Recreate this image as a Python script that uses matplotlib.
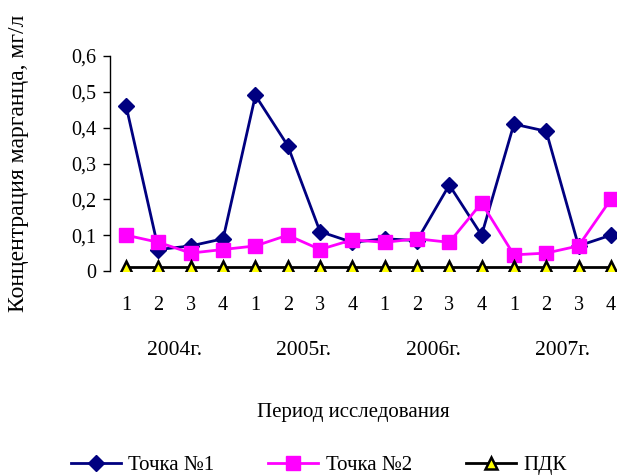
import matplotlib
matplotlib.use("Agg")
import matplotlib.pyplot as plt
import numpy as np

plt.rcParams['font.family'] = ['Liberation Serif', 'DejaVu Serif']

quarters = ['1', '2', '3', '4'] * 4
years = ['2004г.', '2005г.', '2006г.', '2007г.']
point1 = [0.46, 0.06, 0.07, 0.09, 0.49, 0.35, 0.11, 0.08, 0.09, 0.085, 0.24, 0.10, 0.41, 0.39, 0.07, 0.10]
point2 = [0.10, 0.08, 0.05, 0.06, 0.07, 0.10, 0.06, 0.087, 0.08, 0.09, 0.08, 0.19, 0.045, 0.05, 0.07, 0.20]
pdk = [0.01] * 16
yticks = [0, 0.1, 0.2, 0.3, 0.4, 0.5, 0.6]
ytick_labels = ['0', '0,1', '0,2', '0,3', '0,4', '0,5', '0,6']

W, H = 617, 475
fig = plt.figure(figsize=(W / 100, H / 100), dpi=100)
ax_left, ax_right = 110, 627
ax_top, ax_bottom = 56, 271
ax = fig.add_axes([ax_left / W, 1 - ax_bottom / H, (ax_right - ax_left) / W, (ax_bottom - ax_top) / H])

x = np.arange(len(quarters))
ax.plot(x, point1, color='#000080', lw=2.0, marker='D', ms=8.5, mfc='#000080', mec='#000080', label='Точка №1', zorder=3)
ax.plot(x, point2, color='#FF00FF', lw=2.0, marker='s', ms=9.5, mfc='#FF00FF', mec='#FF00FF', label='Точка №2', zorder=3)
ax.plot(x, pdk, color='black', lw=2.0, marker='^', ms=9, mfc='#FFFF00', mec='black', mew=1.8, label='ПДК', zorder=4)

ax.set_xlim(-0.5, len(quarters) - 0.5)
ax.set_ylim(0, 0.6)
ax.set_yticks(yticks)
ax.set_yticklabels(ytick_labels, fontsize=14.5)
ax.set_xticks(x)
ax.set_xticklabels(quarters, fontsize=14.5)
ax.tick_params(axis='x', length=0, pad=18)
ax.tick_params(axis='y', length=5, width=1, direction='out', pad=5)
for s in ['top', 'right', 'bottom']:
    ax.spines[s].set_visible(False)
ax.spines['left'].set_linewidth(1)

for i, yr in enumerate(years):
    ax.text(i * 4 + 1.5, -0.222, yr, ha='center', va='center', fontsize=15.5,
            transform=ax.transData, clip_on=False)

fig.text(353 / W, 1 - 413 / H, 'Период исследования', ha='center', va='center', fontsize=15)
fig.text(19 / W, 1 - 163 / H, 'Концентрация марганца, мг/л', rotation=90, ha='center', va='center', fontsize=17)

leg = fig.legend(loc='center left', bbox_to_anchor=(52 / W, 1 - 465 / H), ncol=3, frameon=False,
                 fontsize=15, handlelength=2.4, columnspacing=2.6, handletextpad=0.35)

fig.savefig('out.png', dpi=100)
